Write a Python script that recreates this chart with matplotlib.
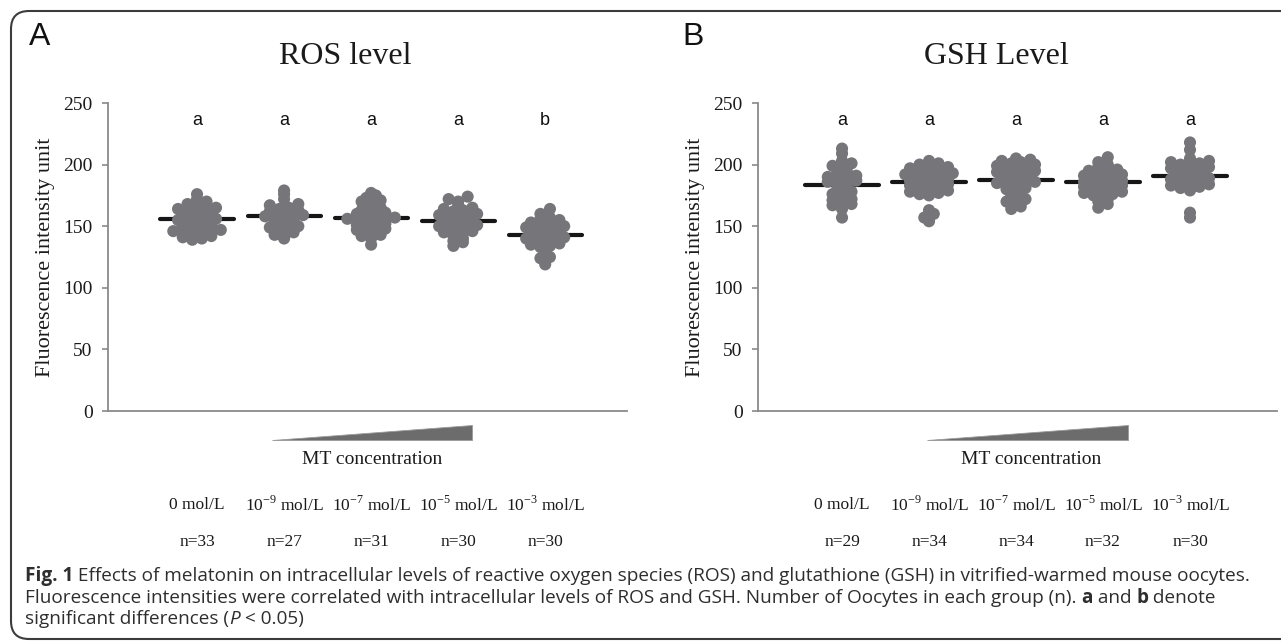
import numpy as np
import matplotlib
matplotlib.use("Agg")
import matplotlib.pyplot as plt
import matplotlib.patches as mpatches
from matplotlib.transforms import blended_transform_factory, IdentityTransform

plt.rcParams["mathtext.fontset"] = "custom"
plt.rcParams["mathtext.rm"] = "Liberation Serif"

# ---- data ----
conc_labels = ["0 mol/L", "10$^{-9}$ mol/L", "10$^{-7}$ mol/L", "10$^{-5}$ mol/L", "10$^{-3}$ mol/L"]

ros_n = ["n=33", "n=27", "n=31", "n=30", "n=30"]
ros_letters = ["a", "a", "a", "a", "b"]
ros_means = [156, 158, 157, 154, 143]
ros_g1 = [176, 172, 170, 168, 167, 165, 164, 163, 162, 161, 160, 159, 158, 157, 156, 155, 154,
          153, 152, 151, 150, 149, 148, 147, 146, 146, 145, 144, 143, 142, 141, 140, 139]
ros_g2 = [179, 176, 172, 168, 167, 165, 164, 163, 162, 161, 160, 159, 158, 157, 156, 155, 154,
          153, 152, 150, 149, 148, 146, 145, 143, 141, 140]
ros_g3 = [177, 175, 173, 171, 170, 168, 165, 163, 162, 161, 160, 159, 158, 157, 156, 155, 155,
          154, 153, 152, 151, 150, 149, 148, 147, 146, 145, 143, 142, 140, 135]
ros_g4 = [174, 172, 170, 167, 165, 164, 163, 162, 160, 159, 158, 157, 156, 155, 154, 153, 152,
          151, 150, 149, 148, 147, 146, 145, 144, 142, 140, 138, 137, 134]
ros_g5 = [164, 160, 157, 156, 155, 153, 152, 151, 150, 149, 148, 147, 146, 145, 144, 143, 142,
          141, 140, 139, 138, 137, 136, 135, 134, 133, 130, 125, 124, 119]

gsh_n = ["n=29", "n=34", "n=34", "n=32", "n=30"]
gsh_letters = ["a", "a", "a", "a", "a"]
gsh_means = [183.5, 186, 187.5, 186, 190.5]
gsh_g1 = [213, 209, 203, 201, 199, 197, 195, 193, 191, 190, 189, 188, 187, 186, 185, 184, 182,
          180, 178, 176, 174, 172, 171, 170, 168, 167, 166, 164, 157]
gsh_g2 = [203, 201, 200, 199, 198, 197, 196, 195, 194, 193, 192, 191, 190, 190, 189, 188, 187,
          186, 185, 185, 184, 183, 182, 181, 180, 179, 178, 177, 176, 175, 163, 160, 157, 154]
gsh_g3 = [205, 204, 203, 202, 201, 200, 199, 198, 197, 196, 195, 194, 193, 192, 191, 190, 189,
          188, 187, 186, 185, 184, 183, 182, 181, 180, 178, 176, 174, 172, 170, 168, 166, 164]
gsh_g4 = [206, 202, 200, 198, 196, 195, 194, 193, 192, 191, 190, 189, 188, 187, 186, 186, 185,
          184, 183, 182, 181, 180, 179, 178, 177, 176, 175, 174, 172, 170, 168, 165]
gsh_g5 = [218, 212, 205, 203, 202, 201, 200, 199, 198, 197, 196, 195, 194, 193, 192, 191, 190,
          189, 188, 187, 186, 185, 184, 183, 182, 181, 180, 179, 161, 157]

ros_groups = [ros_g1, ros_g2, ros_g3, ros_g4, ros_g5]
gsh_groups = [gsh_g1, gsh_g2, gsh_g3, gsh_g4, gsh_g5]

W, H = 1281, 643
DOT = "#76767a"
INK = "#1a1a1a"
SERIF = "Liberation Serif"
SANS = "Liberation Sans"

fig = plt.figure(figsize=(W / 100, H / 100), dpi=100)


def dot_offsets(values, binw, step):
    """Dot-plot layout: values falling in the same row bin sit side by side."""
    v = np.asarray(values, dtype=float)
    rows = np.round((v - np.median(v)) / binw)
    offs = np.zeros(len(v))
    for r in np.unique(rows):
        idx = np.where(rows == r)[0]
        idx = idx[np.argsort(v[idx])]
        k = len(idx)
        # centre-out ordering so the row stays symmetric
        slots = (np.arange(k) - (k - 1) / 2) * step
        order = np.argsort(np.abs(slots), kind="stable")
        offs[idx] = slots[order]
    return offs


def panel(rect, xlim, groups, means, letters, nlabels, title, title_x, tag, tag_x,
          wedge, mt_x):
    ax = fig.add_axes(rect)
    ax.set_xlim(*xlim)
    ax.set_ylim(0, 250)
    px_x = rect[2] * W / (xlim[1] - xlim[0])
    cats = np.arange(1, len(groups) + 1)
    for c, vals, m in zip(cats, groups, means):
        ax.plot([c - 0.42, c + 0.42], [m, m], color="#161616", lw=3.0,
                solid_capstyle="round", zorder=2)
        dx = dot_offsets(vals, 4.6, 9.5 / px_x)
        ax.scatter(c + dx, vals, s=76, color=DOT, edgecolors="none", zorder=3)
    for c, t in zip(cats, letters):
        ax.text(c, 236, t, ha="center", va="center", family=SANS, fontsize=13, color="#111")

    for s in ("top", "right"):
        ax.spines[s].set_visible(False)
    for s in ("left", "bottom"):
        ax.spines[s].set_color("#8a8a8a")
        ax.spines[s].set_linewidth(1.3)
    ax.set_xticks([])
    ax.set_yticks([0, 50, 100, 150, 200, 250])
    ax.tick_params(axis="y", direction="out", length=4, width=1.2, color="#8a8a8a",
                   pad=7, labelsize=14, labelcolor=INK)
    for lb in ax.get_yticklabels():
        lb.set_family(SERIF)
    ax.set_ylabel("Fluorescence intensity unit", family=SERIF, fontsize=16,
                  color=INK, labelpad=6)
    fig.text(title_x, 1 - 57 / H, title, family=SERIF, fontsize=23, color=INK,
             ha="center", va="center")

    # concentration wedge below the axis
    x0, x1 = wedge
    tri = mpatches.Polygon([(x0, -0.094), (x1, -0.094), (x1, -0.045)], closed=True,
                           facecolor="#6c6c6c", edgecolor="#9a9a9a", lw=0.6,
                           transform=ax.transAxes, clip_on=False)
    ax.add_patch(tri)

    bt = blended_transform_factory(ax.transData, fig.transFigure)
    fig.text(mt_x, 1 - 460 / H, "MT concentration", family=SERIF, fontsize=14,
             ha="center", va="center", color=INK)
    for c, t, n in zip(cats, conc_labels, nlabels):
        ax.text(c, 1 - 505 / H, t, transform=bt, ha="center", va="center",
                family=SERIF, fontsize=12.5, color=INK)
        ax.text(c, 1 - 542 / H, n, transform=bt, ha="center", va="center",
                family=SERIF, fontsize=12.5, color=INK)
    fig.text(tag_x, 1 - 37 / H, tag, family=SANS, fontsize=23, ha="center",
             va="center", color="#111")
    return ax


ax_l = panel([108 / W, 1 - 411 / H, 519 / W, 308 / H], (-0.023, 5.94), ros_groups,
             ros_means, ros_letters, ros_n, "ROS level", 345 / W, "A", 40 / W,
             (0.316, 0.701), 372 / W)
ax_r = panel([758 / W, 1 - 411 / H, 519 / W, 308 / H], (0.034, 6.0), gsh_groups,
             gsh_means, gsh_letters, gsh_n, "GSH Level", 996 / W, "B", 693 / W,
             (0.325, 0.713), 1031 / W)

# rounded frame around the figure (runs off the right edge)
frame = mpatches.FancyBboxPatch((11, H - 639), 1400, 628,
                                boxstyle="round,pad=0,rounding_size=18",
                                facecolor="none", edgecolor="#3c3c3c", lw=1.5,
                                transform=IdentityTransform())
fig.add_artist(frame)

# caption, drawn run by run so bold / italic pieces line up
CAP = "Open Sans"
CAP_SIZE = 13.7
cap_lines = [
    [("Fig. 1", "bold", "normal"),
     (" Effects of melatonin on intracellular levels of reactive oxygen species (ROS) and "
      "glutathione (GSH) in vitrified-warmed mouse oocytes.", "normal", "normal")],
    [("Fluorescence intensities were correlated with intracellular levels of ROS and GSH. "
      "Number of Oocytes in each group (n). ", "normal", "normal"),
     ("a", "bold", "normal"), (" and ", "normal", "normal"), ("b", "bold", "normal"),
     (" denote", "normal", "normal")],
    [("significant differences (", "normal", "normal"), ("P", "normal", "italic"),
     (" < 0.05)", "normal", "normal")],
]
cap_y = [576, 598, 619]

fig.canvas.draw()
rend = fig.canvas.get_renderer()
for runs, yy in zip(cap_lines, cap_y):
    x = 25
    for txt, wt, st in runs:
        t = fig.text(x / W, 1 - yy / H, txt, family=CAP, fontsize=CAP_SIZE, weight=wt,
                     style=st, color="#2e2e2e", va="center", ha="left")
        bb = t.get_window_extent(renderer=rend)
        x += bb.width

fig.savefig("out.png", dpi=100)
